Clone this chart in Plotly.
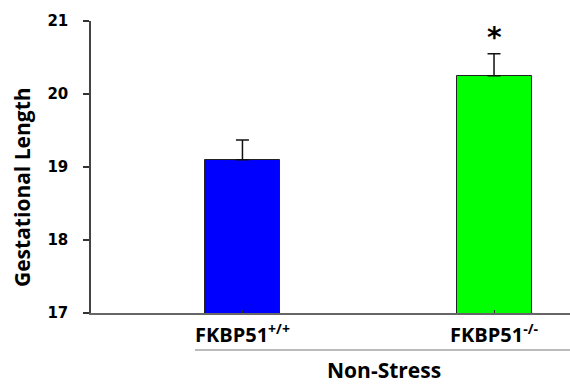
import plotly.graph_objects as go

# Group labels, means and SEM (plus direction only)
groups = ["<b>FKBP51<sup>+/+</sup></b>", "<b>FKBP51<sup>-/-</sup></b>"]
means = [19.10, 20.25]
sem = [0.27, 0.30]
colors = ["#0000FF", "#00FF00"]
y_ticks = [17, 18, 19, 20, 21]
significance = ["", "*"]

W, H = 570, 384
L, R, T, B = 91, 0, 21, 71
pw, ph = W - L - R, H - T - B

def px_x(p):
    return (p - L) / pw

def px_y(p):
    return (H - B - p) / ph

fig = go.Figure()
fig.add_trace(go.Bar(
    x=[0, 1], y=means,
    width=0.298,
    marker=dict(color=colors, line=dict(color="#222222", width=1)),
    error_y=dict(type="data", array=sem, arrayminus=[0, 0], symmetric=False,
                 color="#111111", thickness=1.5, width=6.5),
    showlegend=False,
))

# significance marker above the error bar
for i, s in enumerate(significance):
    if s:
        fig.add_annotation(x=i, y=means[i] + sem[i], text="<b>*</b>", showarrow=False,
                           yanchor="bottom", yshift=-2, xshift=0,
                           font=dict(family="DejaVu Sans", size=28, color="#000000"))

# y-axis title
fig.add_annotation(xref="paper", yref="paper", x=px_x(22), y=px_y(187),
                   xanchor="center", yanchor="middle",
                   text="<b>Gestational Length</b>", textangle=-90, showarrow=False,
                   font=dict(family="Open Sans", size=21, color="#000000"))

# grouping line and group label
fig.add_shape(type="line", xref="paper", yref="paper",
              x0=px_x(195), x1=1.0, y0=px_y(350), y1=px_y(350),
              line=dict(color="#bbbbbb", width=2))
fig.add_annotation(xref="paper", yref="paper", x=px_x(384), y=px_y(370),
                   xanchor="center", yanchor="middle",
                   text="<b>Non-Stress</b>", showarrow=False,
                   font=dict(family="Open Sans", size=21, color="#000000"))

fig.update_layout(
    width=W, height=H,
    margin=dict(l=L, r=R, t=T, b=B, pad=0),
    paper_bgcolor="white", plot_bgcolor="white",
    bargap=0,
    xaxis=dict(
        range=[-0.602, 1.302],
        tickmode="array", tickvals=[0, 1], ticktext=groups,
        ticks="inside", ticklen=3, tickcolor="#333333",
        showline=True, linecolor="#666666", linewidth=2,
        showgrid=False, zeroline=False,
        ticklabelstandoff=3,
        tickfont=dict(family="Open Sans", size=20, color="#000000"),
    ),
    yaxis=dict(
        range=[17, 21],
        tickmode="array", tickvals=y_ticks, ticktext=[f"<b>{v}</b>" for v in y_ticks],
        ticks="outside", ticklen=6, tickcolor="#333333", tickwidth=1.5,
        showline=True, linecolor="#444444", linewidth=1.5,
        showgrid=False, zeroline=False,
        ticklabelstandoff=12,
        tickfont=dict(family="DejaVu Sans", size=15, color="#000000"),
    ),
)

fig.write_html("out.html")
